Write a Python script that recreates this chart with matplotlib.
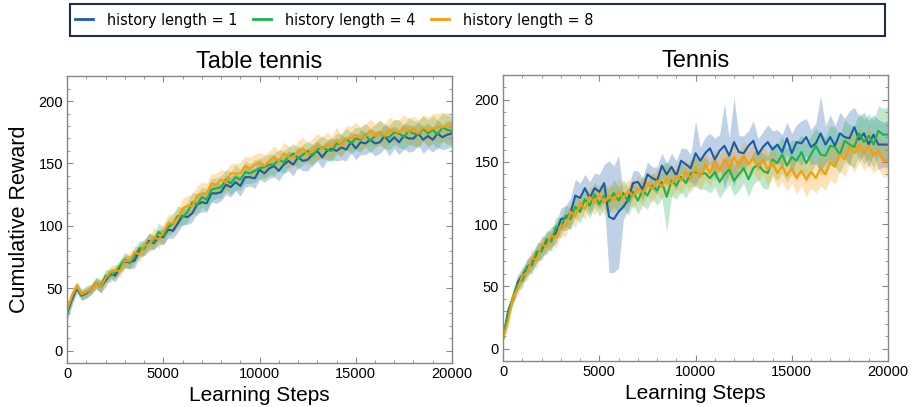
import numpy as np
import matplotlib
matplotlib.use("Agg")
import matplotlib.pyplot as plt
from matplotlib import font_manager
from matplotlib.font_manager import FontProperties
from matplotlib.lines import Line2D
from matplotlib.patches import Rectangle
from matplotlib.ticker import MultipleLocator

plt.rcParams['font.family'] = ['Liberation Sans', 'DejaVu Sans']

# --- data (x every 250 steps) ---
steps = np.arange(0, 20001, 250)

labels = ["history length = 1", "history length = 4", "history length = 8"]
colors = ["#1a5ca8", "#19b34a", "#ff9a05"]
titles = ["Table tennis", "Tennis"]

# Table tennis
tt_h1 = [30, 41, 50, 44, 46, 49, 54, 51, 56, 62, 60, 67, 71, 71, 72, 80, 82, 88, 86, 91,
         91, 97, 96, 102, 108, 107, 110, 117, 119, 118, 126, 126, 127, 133, 131, 135, 132, 139, 139, 138,
         145, 142, 146, 148, 144, 149, 152, 149, 155, 152, 153, 157, 160, 155, 160, 162, 160, 163, 161, 167,
         162, 167, 166, 169, 166, 167, 172, 167, 171, 167, 172, 170, 170, 174, 169, 172, 169, 174, 171, 173, 174]
tt_h4 = [31, 43, 51, 45, 47, 49, 54, 52, 60, 60, 63, 68, 73, 70, 76, 82, 82, 87, 87, 95,
         92, 99, 102, 108, 107, 111, 119, 117, 123, 121, 129, 130, 131, 137, 134, 139, 137, 143, 142, 144,
         146, 147, 149, 149, 153, 151, 155, 158, 154, 157, 160, 156, 161, 163, 161, 160, 166, 165, 170, 166,
         170, 169, 173, 168, 172, 175, 171, 171, 175, 174, 171, 176, 174, 173, 178, 174, 177, 173, 179, 177, 176]
tt_h8 = [33, 44, 52, 45, 47, 49, 54, 51, 58, 63, 64, 64, 72, 72, 79, 77, 84, 85, 91, 89,
         95, 102, 102, 106, 114, 116, 116, 124, 126, 126, 134, 133, 137, 135, 142, 142, 142, 148, 146, 149,
         151, 148, 152, 155, 152, 158, 155, 155, 159, 162, 157, 161, 164, 162, 165, 163, 169, 164, 170, 170,
         173, 170, 172, 176, 172, 175, 172, 177, 176, 175, 179, 175, 178, 174, 179, 176, 178, 179, 179, 180, 179]
tt_h1_sd = [6, 5, 4, 4, 4, 4, 4, 5, 5, 4, 5, 5, 5, 5, 6, 5, 6, 6, 5, 6,
            6, 7, 6, 7, 7, 6, 7, 7, 8, 7, 7, 8, 7, 8, 8, 7, 8, 8, 7, 8,
            8, 7, 8, 9, 8, 7, 8, 9, 8, 8, 9, 8, 8, 9, 8, 9, 8, 10, 9, 8,
            9, 10, 9, 9, 10, 9, 10, 11, 9, 10, 10, 11, 10, 9, 11, 10, 10, 11, 10, 11, 10]
tt_h4_sd = [6, 5, 4, 4, 5, 4, 5, 5, 5, 5, 5, 5, 6, 5, 6, 6, 6, 7, 6, 7,
            7, 7, 7, 8, 7, 8, 8, 9, 8, 9, 9, 8, 9, 8, 9, 10, 8, 9, 8, 9,
            8, 9, 8, 9, 8, 9, 8, 8, 9, 8, 8, 9, 8, 9, 8, 9, 8, 9, 8, 9,
            9, 10, 9, 10, 9, 10, 9, 10, 10, 11, 10, 11, 10, 11, 10, 11, 11, 12, 11, 12, 11]
tt_h8_sd = [6, 5, 4, 4, 4, 4, 4, 5, 4, 5, 5, 5, 5, 6, 5, 6, 6, 6, 7, 7,
            7, 7, 8, 8, 8, 8, 9, 8, 9, 8, 8, 9, 8, 9, 8, 8, 9, 8, 9, 8,
            8, 9, 8, 9, 8, 9, 9, 8, 9, 9, 9, 9, 10, 9, 10, 9, 10, 9, 10, 10,
            10, 9, 10, 9, 10, 9, 10, 10, 9, 10, 10, 11, 10, 11, 10, 11, 12, 11, 12, 11, 11]

# Tennis
tn_h1 = [8, 30, 40, 53, 59, 65, 70, 76, 81, 85, 89, 93, 104, 105, 109, 123, 121, 129, 121, 129,
         126, 133, 106, 104, 110, 114, 120, 133, 134, 128, 140, 137, 135, 147, 140, 146, 139, 151, 148, 145,
         157, 151, 157, 161, 152, 159, 163, 155, 166, 158, 157, 163, 167, 156, 162, 166, 160, 164, 158, 169,
         157, 166, 165, 170, 162, 165, 173, 164, 170, 163, 173, 170, 169, 178, 168, 173, 164, 172, 164, 164, 164]
tn_h4 = [8, 28, 41, 52, 55, 66, 67, 78, 78, 88, 86, 98, 97, 107, 104, 114, 110, 120, 115, 124,
         116, 123, 118, 125, 119, 125, 118, 126, 119, 127, 123, 131, 127, 134, 122, 135, 131, 138, 133, 141,
         142, 140, 141, 137, 142, 134, 140, 144, 135, 140, 145, 136, 145, 148, 143, 141, 152, 149, 156, 147,
         154, 151, 158, 149, 156, 163, 156, 155, 163, 162, 156, 167, 164, 162, 173, 166, 171, 164, 175, 172, 172]
tn_h8 = [8, 22, 41, 48, 59, 61, 73, 71, 84, 82, 91, 89, 99, 98, 110, 106, 117, 112, 122, 117,
         124, 117, 123, 119, 126, 121, 127, 122, 129, 125, 133, 128, 135, 130, 137, 132, 139, 135, 142, 137,
         145, 138, 148, 141, 150, 143, 152, 145, 154, 147, 155, 148, 153, 146, 152, 144, 150, 141, 147, 139,
         145, 137, 143, 136, 142, 137, 145, 140, 150, 146, 156, 152, 162, 157, 164, 157, 163, 155, 159, 151, 152]
tn_h1_sd = [2, 4, 5, 6, 6, 7, 7, 7, 8, 8, 8, 8, 9, 10, 12, 13, 12, 11, 13, 12,
            14, 15, 45, 43, 45, 10, 9, 10, 9, 9, 10, 9, 11, 10, 9, 11, 12, 10, 13, 11,
            26, 11, 13, 12, 17, 13, 34, 14, 36, 13, 14, 12, 16, 13, 12, 14, 15, 12, 14, 13,
            16, 14, 18, 15, 14, 16, 30, 15, 18, 16, 17, 15, 22, 16, 18, 17, 19, 16, 20, 18, 19]
tn_h4_sd = [2, 4, 5, 6, 6, 6, 7, 7, 7, 7, 8, 8, 8, 8, 9, 9, 9, 9, 10, 10,
            10, 10, 10, 11, 10, 11, 11, 10, 11, 12, 11, 10, 12, 13, 28, 12, 11, 12, 12, 11,
            12, 12, 13, 12, 12, 13, 13, 12, 12, 13, 12, 14, 13, 12, 14, 13, 12, 14, 15, 13,
            14, 15, 14, 16, 15, 14, 16, 15, 16, 16, 15, 17, 16, 17, 17, 18, 18, 19, 20, 21, 22]
tn_h8_sd = [2, 5, 5, 6, 6, 6, 7, 7, 7, 7, 8, 8, 8, 8, 8, 9, 9, 8, 9, 10,
            9, 10, 9, 10, 10, 10, 9, 10, 10, 10, 10, 11, 10, 10, 11, 10, 10, 11, 10, 12,
            11, 10, 12, 11, 10, 12, 11, 12, 12, 11, 12, 12, 11, 12, 12, 13, 12, 12, 13, 12,
            12, 13, 12, 14, 13, 12, 14, 13, 14, 14, 13, 14, 14, 15, 14, 14, 15, 14, 14, 13, 13]

panels = [
    ([tt_h1, tt_h4, tt_h8], [tt_h1_sd, tt_h4_sd, tt_h8_sd]),
    ([tn_h1, tn_h4, tn_h8], [tn_h1_sd, tn_h4_sd, tn_h8_sd]),
]

fig = plt.figure(figsize=(9.14, 4.07), dpi=100)
ax_boxes = [[0.0735, 0.108, 0.421, 0.705], [0.5505, 0.113, 0.421, 0.703]]

for k, (means, sds) in enumerate(panels):
    ax = fig.add_axes(ax_boxes[k])
    for m, s, c in zip(means, sds, colors):
        m = np.array(m, dtype=float)
        s = np.array(s, dtype=float)
        ax.fill_between(steps, m - s, m + s, color=c, alpha=0.28, lw=0)
        ax.plot(steps, m, color=c, lw=1.5)
    ax.set_xlim(0, 20000)
    ax.set_ylim(-10, 220)
    ax.set_xticks([0, 5000, 10000, 15000, 20000])
    ax.set_yticks([0, 50, 100, 150, 200])
    ax.xaxis.set_minor_locator(MultipleLocator(1000))
    ax.yaxis.set_minor_locator(MultipleLocator(10))
    ax.tick_params(which='both', direction='in', top=True, right=True,
                   color='#888888', labelsize=10.5, pad=3)
    ax.tick_params(which='major', length=4)
    ax.tick_params(which='minor', length=2)
    for sp in ax.spines.values():
        sp.set_color('#888888')
        sp.set_linewidth(1)
    ax.set_title(titles[k], fontsize=17, pad=6)
    ax.set_xlabel('Learning Steps', fontsize=15, labelpad=3.5)
    if k == 0:
        ax.set_ylabel('Cumulative Reward', fontsize=15.5, labelpad=6)

# legend font: a narrow face if there is one, else Liberation Sans
leg_fp = FontProperties(family='Liberation Sans', size=11)
for f in font_manager.fontManager.ttflist:
    if 'Narrow' in f.name or f.stretch in ('condensed', 'semi-condensed'):
        if f.weight in (400, 'normal', 'regular') and f.style == 'normal':
            leg_fp = FontProperties(fname=f.fname, size=11.5)
            break

renderer = fig.canvas.get_renderer()
probe = fig.text(0, 0, labels[0], fontproperties=leg_fp)
text_w = probe.get_window_extent(renderer).width
probe.remove()

em = leg_fp.get_size_in_points() * 100 / 72
pitch = 178  # px between legend entries in the reference
handles = [Line2D([], [], color=c, lw=2) for c in colors]
fig.legend(handles, labels, loc='center left', bbox_to_anchor=(75 / 914, 1 - 20 / 407),
           ncol=3, frameon=False, borderpad=0, borderaxespad=0,
           handlelength=18 / em, handletextpad=14 / em,
           columnspacing=max(0.5, (pitch - 32 - text_w) / em), prop=leg_fp)
fig.patches.append(Rectangle((70 / 914, 1 - 36 / 407), 815 / 914, 32 / 407,
                             transform=fig.transFigure, fill=False,
                             edgecolor='#1f2d4d', lw=1.5))

fig.savefig('out.png', dpi=100)
